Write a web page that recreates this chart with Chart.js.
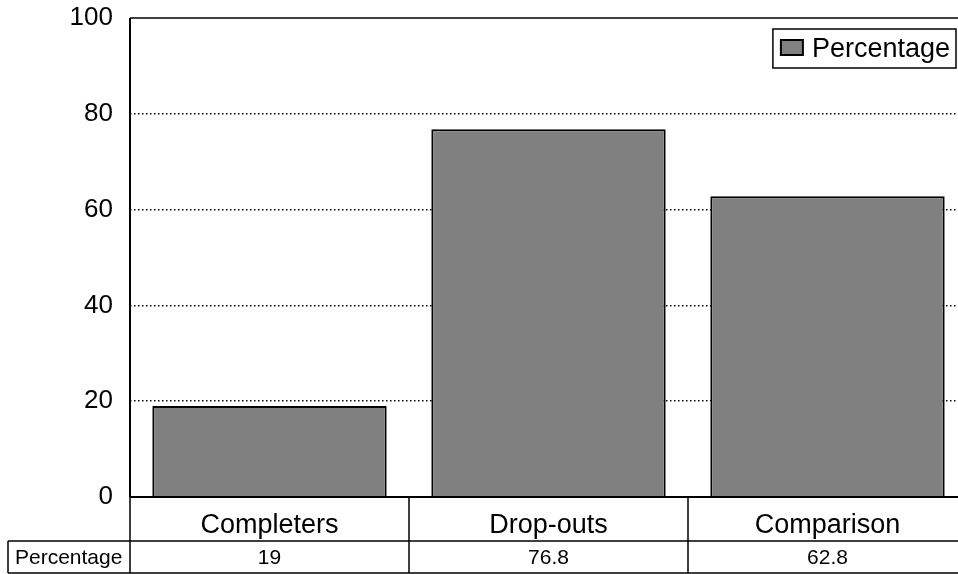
<!DOCTYPE html>
<html><head><meta charset="utf-8">
<script src="https://cdn.jsdelivr.net/npm/chart.js@4"></script>
<style>html,body{margin:0;padding:0;background:#fff;overflow:hidden;}#wrap{width:975px;height:574px;}</style>
</head><body><div id="wrap"><canvas id="c" width="975" height="574"></canvas></div>
<script>
const categories = ['Completers', 'Drop-outs', 'Comparison'];
const percentage = [19, 76.8, 62.8];
const seriesName = 'Percentage';
const yTicks = [0, 20, 40, 60, 80, 100];
const FONT = '"Liberation Sans", Arial, sans-serif';

const framePlugin = {
  id: 'framePlugin',
  afterDatasetsDraw(chart) {
    const {ctx, chartArea: a} = chart;
    ctx.save();
    ctx.setLineDash([]);
    ctx.strokeStyle = '#000';
    ctx.lineWidth = 1.5;
    ctx.beginPath();
    ctx.moveTo(a.left, a.top); ctx.lineTo(a.right, a.top);
    ctx.stroke();
    ctx.lineWidth = 2;
    ctx.beginPath();
    ctx.moveTo(a.left, a.top); ctx.lineTo(a.left, a.bottom);
    ctx.moveTo(a.left, a.bottom); ctx.lineTo(a.right, a.bottom);
    ctx.stroke();
    ctx.restore();
  }
};

const legendPlugin = {
  id: 'boxLegend',
  afterDraw(chart) {
    const {ctx, chartArea: a} = chart;
    const ds = chart.data.datasets[0];
    ctx.save();
    ctx.font = '27px ' + FONT;
    const tw = ctx.measureText(ds.label).width;
    const w = 8 + 22 + 9 + tw + 6, h = 39;
    const right = a.right - 11, top = a.top + 11, left = right - w;
    ctx.fillStyle = '#fff';
    ctx.fillRect(left, top, w, h);
    ctx.strokeStyle = '#000'; ctx.lineWidth = 1.5;
    ctx.strokeRect(left, top, w, h);
    ctx.fillStyle = ds.backgroundColor;
    ctx.fillRect(left + 8, top + 11, 22, 15);
    ctx.lineWidth = 2;
    ctx.strokeRect(left + 8, top + 11, 22, 15);
    ctx.fillStyle = '#000';
    ctx.textBaseline = 'middle';
    ctx.textAlign = 'left';
    ctx.fillText(ds.label, left + 39, top + h / 2 + 1);
    ctx.restore();
  }
};

const tablePlugin = {
  id: 'dataTable',
  afterDraw(chart) {
    const {ctx, chartArea: a} = chart;
    const x = chart.scales.x;
    const n = categories.length;
    const half = (x.getPixelForValue(1) - x.getPixelForValue(0)) / 2;
    const b = a.bottom;
    const rowTop = b + 44, rowBot = b + 76, hdrLeft = 8;
    ctx.save();
    ctx.strokeStyle = '#000';
    ctx.lineWidth = 1.5;
    ctx.setLineDash([]);
    ctx.beginPath();
    ctx.moveTo(hdrLeft, rowTop); ctx.lineTo(a.right, rowTop);
    ctx.moveTo(hdrLeft, rowBot); ctx.lineTo(a.right, rowBot);
    ctx.moveTo(hdrLeft, rowTop); ctx.lineTo(hdrLeft, rowBot);
    ctx.moveTo(a.left, b); ctx.lineTo(a.left, rowBot);
    for (let i = 0; i < n; i++) {
      const xr = x.getPixelForValue(i) + half;
      ctx.moveTo(xr, b); ctx.lineTo(xr, rowBot);
    }
    ctx.stroke();
    ctx.fillStyle = '#000';
    ctx.textBaseline = 'middle';
    ctx.textAlign = 'center';
    ctx.font = '27px ' + FONT;
    categories.forEach((c, i) => ctx.fillText(c, x.getPixelForValue(i), b + 29));
    ctx.font = '21px ' + FONT;
    percentage.forEach((v, i) => ctx.fillText(String(v), x.getPixelForValue(i), b + 61));
    ctx.textAlign = 'left';
    ctx.font = '21px ' + FONT;
    ctx.fillText(seriesName, 15, b + 61);
    ctx.restore();
  }
};

new Chart(document.getElementById('c'), {
  type: 'bar',
  data: {
    labels: categories,
    datasets: [{
      label: seriesName,
      data: percentage,
      backgroundColor: '#808080',
      borderColor: '#000',
      borderWidth: 2,
      categoryPercentage: 1,
      barPercentage: 0.84
    }]
  },
  options: {
    responsive: false,
    animation: false,
    layout: {padding: {top: 18, right: 8, bottom: 77, left: 0}},
    plugins: {legend: {display: false}, tooltip: {enabled: false}},
    scales: {
      x: {display: false},
      y: {
        min: 0, max: 100,
        afterBuildTicks: s => { s.ticks = yTicks.map(v => ({value: v})); },
        afterFit: s => { s.width = 130; s.paddingTop = 0; s.paddingBottom = 0; },
        ticks: {padding: 17, color: '#000', font: {family: FONT, size: 26}},
        grid: {
          drawTicks: false,
          lineWidth: 1.5,
          color: c => (c.tick && (c.tick.value === 0 || c.tick.value === 100)) ? 'rgba(0,0,0,0)' : '#000'
        },
        border: {display: false, dash: [1.5, 2.5]}
      }
    }
  },
  plugins: [framePlugin, legendPlugin, tablePlugin]
});
</script>
</body></html>
